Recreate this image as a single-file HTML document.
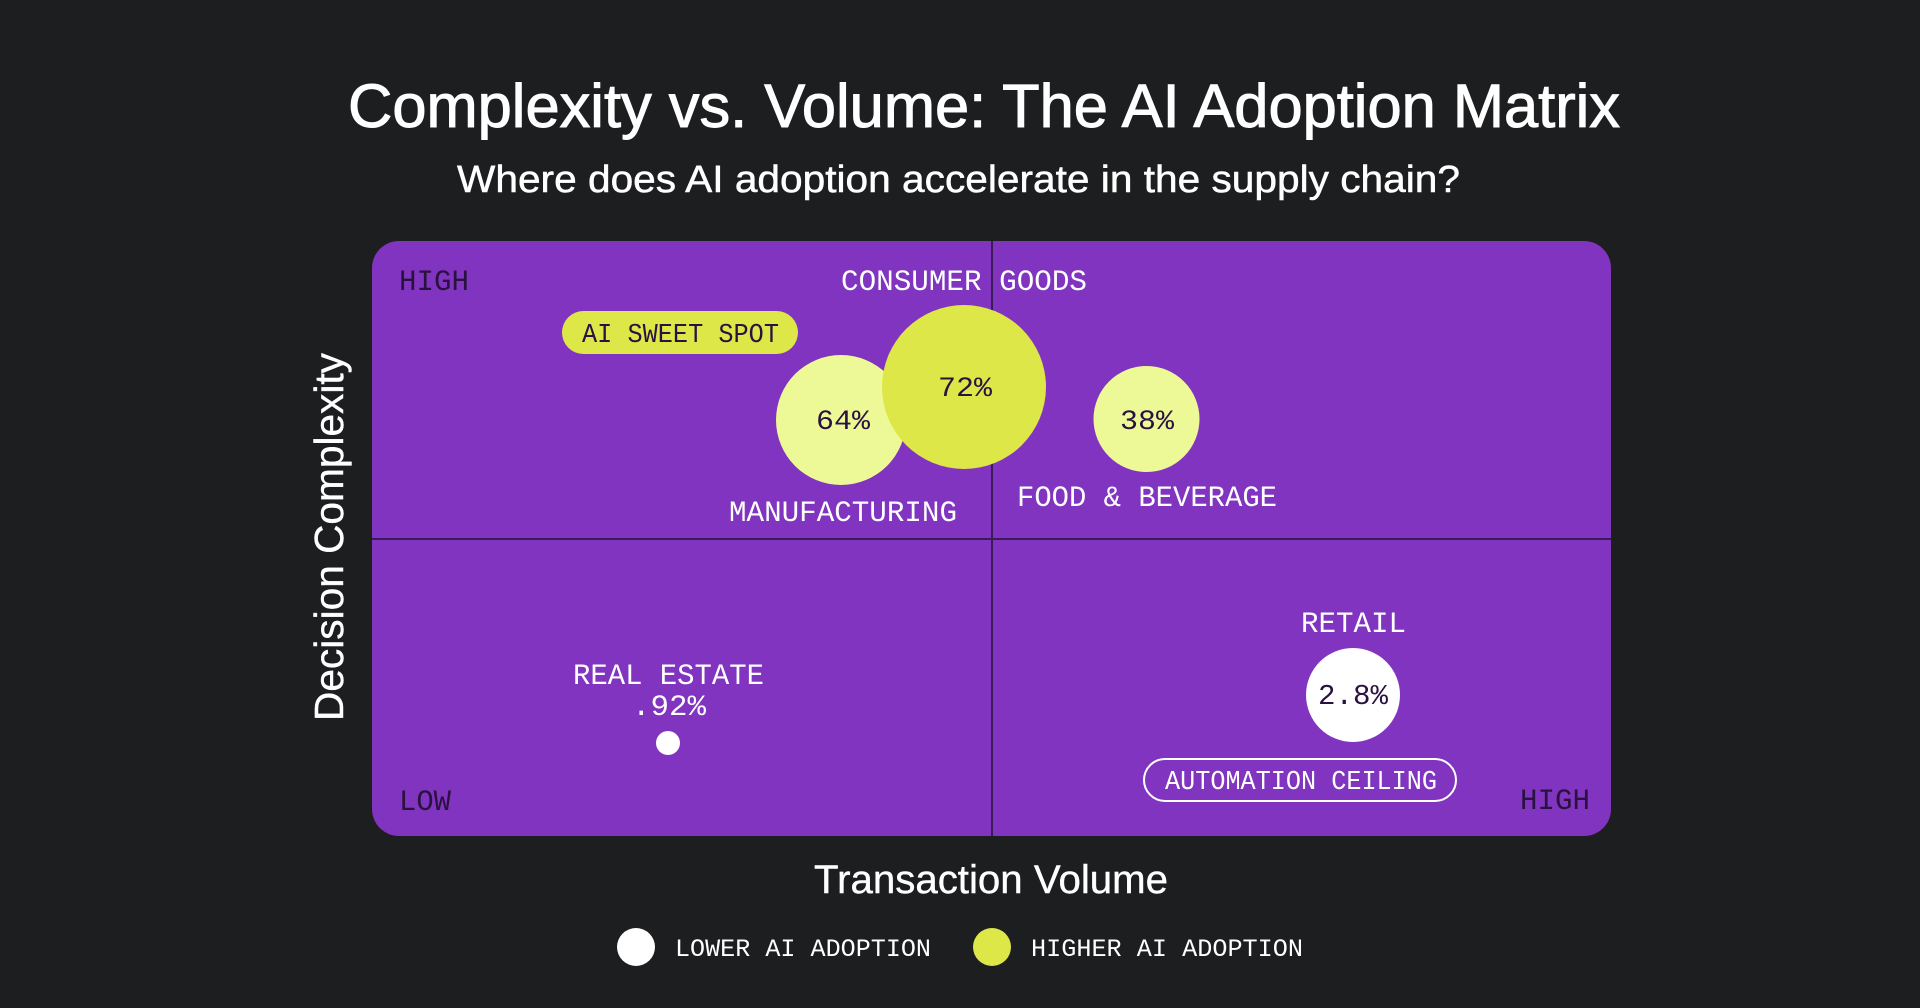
<!DOCTYPE html>
<html>
<head>
<meta charset="utf-8">
<style>
  html,body{margin:0;padding:0;background:#1D1E20;width:1920px;height:1008px;overflow:hidden;}
  svg{display:block;}
  .sans{font-family:"Liberation Sans",Arial,sans-serif;}
  .mono{font-family:"Liberation Mono","DejaVu Sans Mono",monospace;}
</style>
</head>
<body>
<svg width="1920" height="1008" viewBox="0 0 1920 1008" xmlns="http://www.w3.org/2000/svg">
  <rect x="0" y="0" width="1920" height="1008" fill="#1D1E20"/>

  <!-- Titles -->
  <text class="sans" x="348" y="127" font-size="61" fill="#FFFFFF" stroke="#FFFFFF" stroke-width="1" textLength="1272" lengthAdjust="spacingAndGlyphs">Complexity vs. Volume: The AI Adoption Matrix</text>
  <text class="sans" x="457" y="192" font-size="38" fill="#FFFFFF" stroke="#FFFFFF" stroke-width="0.5" textLength="1003" lengthAdjust="spacingAndGlyphs">Where does AI adoption accelerate in the supply chain?</text>

  <!-- Panel -->
  <rect x="372" y="241" width="1239" height="595" rx="27" ry="27" fill="#8134BF"/>
  <line x1="992" y1="241" x2="992" y2="836" stroke="#3B1A5A" stroke-width="2"/>
  <line x1="372" y1="539" x2="1611" y2="539" stroke="#3B1A5A" stroke-width="2"/>

  <!-- Corner labels -->
  <text class="mono" x="399" y="290" font-size="30" fill="#2A1240" textLength="70" lengthAdjust="spacingAndGlyphs">HIGH</text>
  <text class="mono" x="399" y="810" font-size="30" fill="#2A1240" textLength="52" lengthAdjust="spacingAndGlyphs">LOW</text>
  <text class="mono" x="1520" y="809" font-size="30" fill="#2A1240" textLength="70" lengthAdjust="spacingAndGlyphs">HIGH</text>

  <!-- Consumer goods label -->
  <text class="mono" x="841" y="290" font-size="30" fill="#FFFFFF" textLength="246" lengthAdjust="spacingAndGlyphs">CONSUMER GOODS</text>

  <!-- AI sweet spot pill -->
  <rect x="562" y="311" width="236" height="43" rx="21.5" ry="21.5" fill="#DEE748"/>
  <text class="mono" x="582" y="342" font-size="27" fill="#2A1240" textLength="197" lengthAdjust="spacingAndGlyphs">AI SWEET SPOT</text>

  <!-- Bubbles -->
  <circle cx="841" cy="420" r="65" fill="#EDF997"/>
  <text class="mono" x="843" y="429" font-size="28" fill="#2A1240" text-anchor="middle" textLength="54" lengthAdjust="spacingAndGlyphs">64%</text>

  <circle cx="964" cy="387" r="82" fill="#DEE748"/>
  <text class="mono" x="965" y="396" font-size="28" fill="#2A1240" text-anchor="middle" textLength="54" lengthAdjust="spacingAndGlyphs">72%</text>

  <circle cx="1146.5" cy="419" r="53" fill="#EDF997"/>
  <text class="mono" x="1147" y="429" font-size="28" fill="#2A1240" text-anchor="middle" textLength="54" lengthAdjust="spacingAndGlyphs">38%</text>

  <text class="mono" x="729" y="521" font-size="30" fill="#FFFFFF" textLength="228" lengthAdjust="spacingAndGlyphs">MANUFACTURING</text>
  <text class="mono" x="1017" y="506" font-size="30" fill="#FFFFFF" textLength="260" lengthAdjust="spacingAndGlyphs">FOOD &amp; BEVERAGE</text>

  <!-- Real estate -->
  <text class="mono" x="573" y="684" font-size="30" fill="#FFFFFF" textLength="191" lengthAdjust="spacingAndGlyphs">REAL ESTATE</text>
  <text class="mono" x="632" y="715" font-size="30" fill="#FFFFFF" textLength="74" lengthAdjust="spacingAndGlyphs">.92%</text>
  <circle cx="668" cy="743" r="12" fill="#FFFFFF"/>

  <!-- Retail -->
  <text class="mono" x="1301" y="632" font-size="30" fill="#FFFFFF" textLength="105" lengthAdjust="spacingAndGlyphs">RETAIL</text>
  <circle cx="1353" cy="695" r="47" fill="#FFFFFF"/>
  <text class="mono" x="1353" y="704" font-size="29" fill="#2A1240" text-anchor="middle" textLength="70" lengthAdjust="spacingAndGlyphs">2.8%</text>

  <!-- Automation ceiling pill -->
  <rect x="1144" y="759" width="312" height="42" rx="21" ry="21" fill="none" stroke="#FFFFFF" stroke-width="2"/>
  <text class="mono" x="1165" y="789" font-size="27" fill="#FFFFFF" textLength="272" lengthAdjust="spacingAndGlyphs">AUTOMATION CEILING</text>

  <!-- Axis titles -->
  <text class="sans" x="814" y="893" font-size="40" fill="#FFFFFF" stroke="#FFFFFF" stroke-width="0.4" textLength="354" lengthAdjust="spacingAndGlyphs">Transaction Volume</text>
  <text class="sans" transform="translate(343,721) rotate(-90)" x="0" y="0" font-size="41" fill="#FFFFFF" stroke="#FFFFFF" stroke-width="0.4" textLength="368" lengthAdjust="spacingAndGlyphs">Decision Complexity</text>

  <!-- Legend -->
  <circle cx="636" cy="947" r="19" fill="#FFFFFF"/>
  <text class="mono" x="675" y="956" font-size="25" fill="#FFFFFF" textLength="256" lengthAdjust="spacingAndGlyphs">LOWER AI ADOPTION</text>
  <circle cx="992" cy="947" r="19" fill="#DEE748"/>
  <text class="mono" x="1031" y="956" font-size="25" fill="#FFFFFF" textLength="272" lengthAdjust="spacingAndGlyphs">HIGHER AI ADOPTION</text>
</svg>
</body>
</html>
